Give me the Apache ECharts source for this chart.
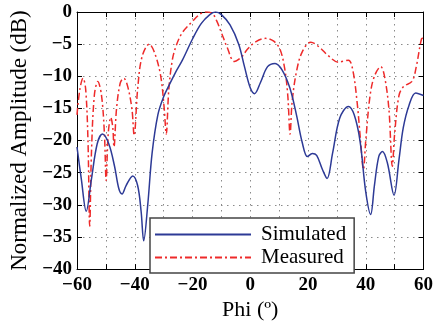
<!DOCTYPE html>
<html><head><meta charset="utf-8">
<script src="https://cdn.jsdelivr.net/npm/echarts@6/dist/echarts.min.js"></script>
<style>html,body{margin:0;padding:0;background:#fff}#c{width:436px;height:326px}</style>
</head><body><div id="c"></div>
<script>
const simPhi = [-60,-58.5,-56.8,-55,-53,-51.2,-49,-47,-45.5,-44.4,-43,-40.7,-39,-37.8,-36.9,-35.5,-34,-32,-30,-28,-26,-23.5,-20,-17,-14,-12,-10,-7,-4,-2,0,1.5,3.5,6,8.6,11,13.7,16,18,19.8,21.5,23,25,26.6,28.5,31,34,36,38,40,41.7,43,44.5,45.8,47.5,49.8,51.5,53,55,57.3,60];
const simDb = [-21,-26,-31,-26,-20.5,-19,-20.5,-24,-27.5,-28.3,-27,-25.5,-27,-31,-35.6,-30,-22,-16,-13.2,-11.3,-9.5,-7.5,-4.2,-1.8,-0.4,0,-0.4,-2,-5,-8.5,-11.8,-12.7,-11,-8.5,-8,-9,-11.8,-16,-20.3,-22.5,-22,-22.3,-24.5,-25.9,-22,-16.5,-14.7,-16,-20,-28,-31.5,-27,-22.5,-21.7,-23.5,-28.5,-23,-18,-14.5,-12.6,-13];
const meaPhi = [-60,-59,-57.9,-57,-56.2,-55.6,-55,-54,-52.8,-51.5,-50.5,-49.9,-49.2,-48.3,-47.6,-47.2,-46.3,-45,-43.8,-42.5,-41,-40.2,-39,-37.5,-35,-33,-31,-29.8,-29.1,-28.2,-27,-25.7,-23.5,-20.1,-17,-15,-13,-11.5,-10,-8,-5.5,-3,-1,2,5.3,8,10.3,12,13,13.8,14.5,16,18,21,24,27,30.5,34,35.5,37,38.2,39.2,40,41.5,43,45.2,46.5,48,49.2,50,51.5,53.1,56,57.5,59.3,60];
const meaDb = [-16,-12,-10.3,-12,-20,-33.3,-22,-13,-10.8,-13,-19,-26.2,-19,-16.4,-18,-21,-15,-11,-10.3,-11.5,-15,-19.2,-12,-7,-5,-6.5,-10,-15,-19,-12,-7.5,-5.3,-3.2,-1.5,-0.2,0,-0.3,-1.5,-3.2,-5.5,-7.7,-7,-5.8,-4.6,-4.1,-4.5,-5.8,-9,-13,-19,-14,-9.3,-6.2,-4.7,-5.5,-6.8,-7.8,-7.5,-9,-14,-20,-24.5,-20,-13,-10,-8.5,-10,-15,-24,-19,-13,-11.6,-10.8,-8.5,-4.2,-4];
const seriesNames = ['Simulated','Measured'];
const xLabelTicks = [-60,-40,-20,0,20,40,60];

const font = 'Liberation Serif';
const fmt = v => String(v).replace('-', '\u2212');
const zip = (a,b) => a.map((x,i)=>[x,b[i]]);
const gridLine = {show:true, lineStyle:{color:'#8a8a8a', width:1, type:[1.5,4.5]}};
const chart = echarts.init(document.getElementById('c'), null, {renderer:'canvas'});
chart.setOption({
  animation:false,
  backgroundColor:'#fff',
  grid:{left:72, right:9, top:12, bottom:50},
  xAxis:[{
    type:'value', min:-60, max:60, interval:10,
    name:'Phi (\u00ba)', nameLocation:'middle', nameGap:23,
    nameTextStyle:{fontFamily:font, fontSize:22, color:'#000'},
    axisLine:{onZero:false, lineStyle:{color:'#000', width:1}},
    axisTick:{inside:true, length:5, lineStyle:{color:'#000'}},
    axisLabel:{fontFamily:font, fontSize:19, fontWeight:'bold', color:'#000', margin:6,
      formatter:v => xLabelTicks.includes(v) ? fmt(v) : ''},
    splitLine:gridLine
  },{
    type:'value', min:-60, max:60, interval:10, position:'top',
    axisLine:{onZero:false, lineStyle:{color:'#000', width:1}},
    axisTick:{inside:true, length:5, lineStyle:{color:'#000'}},
    axisLabel:{show:false}, splitLine:{show:false}
  }],
  yAxis:[{
    type:'value', min:-40, max:0, interval:5,
    name:'Normalized Amplitude (dB)', nameLocation:'middle', nameGap:46,
    nameTextStyle:{fontFamily:font, fontSize:23, color:'#000'},
    axisLine:{show:true, onZero:false, lineStyle:{color:'#000', width:1}},
    axisTick:{show:true, inside:true, length:5, lineStyle:{color:'#000'}},
    axisLabel:{fontFamily:font, fontSize:19, fontWeight:'bold', color:'#000', margin:5, formatter:fmt},
    splitLine:gridLine
  },{
    type:'value', min:-40, max:0, interval:5, position:'right',
    axisLine:{show:true, onZero:false, lineStyle:{color:'#000', width:1}},
    axisTick:{show:true, inside:true, length:5, lineStyle:{color:'#000'}},
    axisLabel:{show:false}, splitLine:{show:false}
  }],
  legend:{
    orient:'vertical', left:150, top:218,
    backgroundColor:'#fff', borderColor:'#444', borderWidth:1.5,
    padding:[6,8,5,4], itemGap:2, itemWidth:96, itemHeight:20,
    itemStyle:{opacity:0},
    textStyle:{fontFamily:font, fontSize:21, color:'#000', padding:[0,0,0,5], lineHeight:20},
    data:seriesNames
  },
  series:[{
    name:seriesNames[0], type:'line', data:zip(simPhi, simDb), smooth:0.35,
    symbol:'none', lineStyle:{color:'#2d3a96', width:1.5}, itemStyle:{color:'#2d3a96'}, z:3
  },{
    name:seriesNames[1], type:'line', data:zip(meaPhi, meaDb), smooth:0.35,
    symbol:'none', lineStyle:{color:'#ee2a2a', width:1.5, type:[7,3,2,3]}, itemStyle:{color:'#ee2a2a'}, z:2
  }]
});
</script></body></html>
